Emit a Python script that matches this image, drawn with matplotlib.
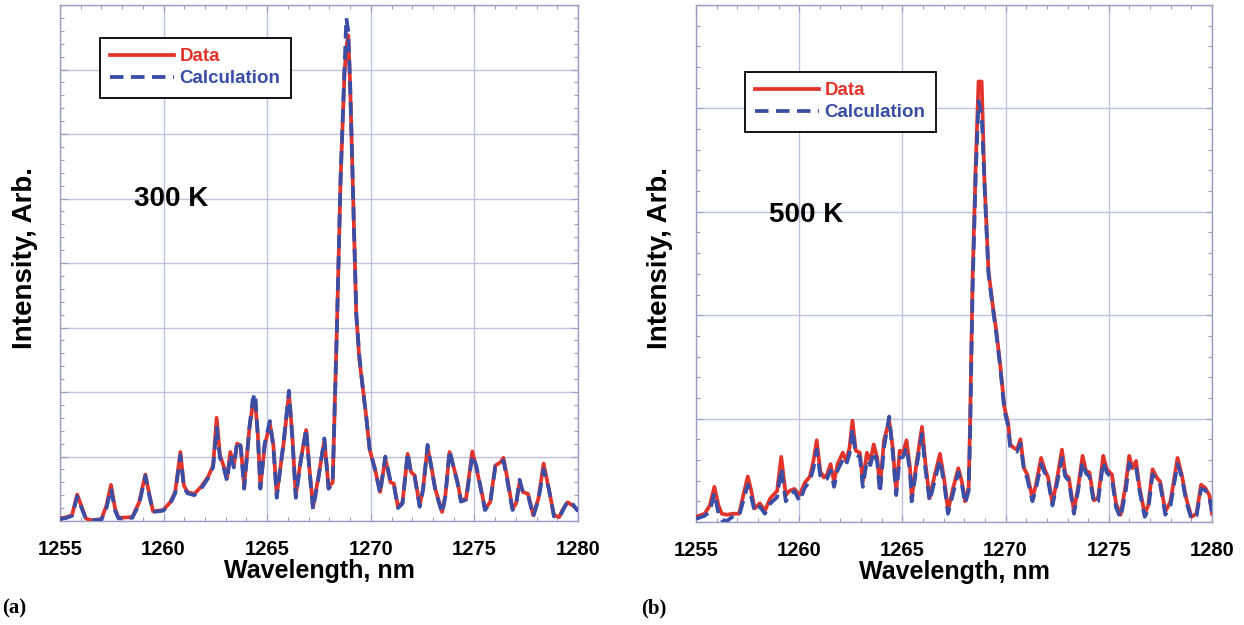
import matplotlib
matplotlib.use("Agg")
import matplotlib.pyplot as plt
from matplotlib.ticker import MultipleLocator

# ---------------- data ----------------
wl_a = [1255.00, 1255.33, 1255.58, 1255.83, 1256.08, 1256.25, 1256.50, 1257.00, 1257.24, 1257.46,
        1257.66, 1257.82, 1258.49, 1258.82, 1259.12, 1259.32, 1259.49, 1259.98, 1260.32, 1260.56,
        1260.81, 1260.98, 1261.15, 1261.48, 1261.81, 1262.14, 1262.39, 1262.56, 1262.72, 1262.89,
        1263.06, 1263.22, 1263.39, 1263.55, 1263.72, 1263.89, 1264.14, 1264.30, 1264.42, 1264.55,
        1264.67, 1264.88, 1265.13, 1265.30, 1265.46, 1265.80, 1266.05, 1266.21, 1266.38, 1266.63,
        1266.88, 1267.04, 1267.21, 1267.46, 1267.76, 1267.96, 1268.16, 1268.27, 1268.36, 1268.54,
        1268.73, 1268.82, 1268.91, 1269.00, 1269.15, 1269.30, 1269.45, 1269.60, 1269.75, 1269.95,
        1270.20, 1270.45, 1270.70, 1270.95, 1271.11, 1271.31, 1271.53, 1271.78, 1271.94, 1272.11,
        1272.36, 1272.52, 1272.74, 1272.94, 1273.11, 1273.44, 1273.60, 1273.80, 1274.02, 1274.19,
        1274.35, 1274.60, 1274.90, 1275.10, 1275.35, 1275.51, 1275.76, 1276.01, 1276.26, 1276.40,
        1276.59, 1276.84, 1277.01, 1277.18, 1277.34, 1277.59, 1277.84, 1278.09, 1278.34, 1278.59,
        1278.84, 1279.09, 1279.25, 1279.50, 1279.75, 1280.00]

data_a = [0.04, 0.06, 0.09, 0.41, 0.19, 0.04, 0.01, 0.03, 0.24, 0.56,
          0.19, 0.05, 0.06, 0.29, 0.72, 0.40, 0.15, 0.17, 0.29, 0.45,
          1.07, 0.55, 0.45, 0.42, 0.53, 0.68, 0.86, 1.60, 1.02, 0.86,
          0.66, 1.07, 0.86, 1.20, 1.17, 0.55, 1.43, 1.80, 1.85, 1.33,
          0.53, 1.17, 1.51, 1.17, 0.40, 1.22, 1.98, 1.33, 0.40, 0.97,
          1.41, 0.81, 0.22, 0.66, 1.25, 0.53, 0.60, 1.90, 2.94, 5.28,
          6.94, 7.34, 7.53, 6.80, 5.00, 3.20, 2.50, 2.10, 1.70, 1.10,
          0.81, 0.45, 0.97, 0.60, 0.58, 0.22, 0.29, 1.04, 0.76, 0.71,
          0.24, 0.50, 1.15, 0.81, 0.50, 0.14, 0.40, 1.07, 0.81, 0.60,
          0.32, 0.35, 1.08, 0.81, 0.45, 0.19, 0.29, 0.86, 0.91, 0.98,
          0.66, 0.19, 0.27, 0.60, 0.45, 0.42, 0.09, 0.35, 0.89, 0.50,
          0.09, 0.06, 0.17, 0.29, 0.24, 0.17]

calc_a = [0.03, 0.05, 0.08, 0.38, 0.17, 0.03, 0.01, 0.02, 0.20, 0.50,
          0.16, 0.04, 0.05, 0.26, 0.70, 0.38, 0.14, 0.16, 0.27, 0.43,
          1.02, 0.52, 0.43, 0.40, 0.50, 0.66, 0.84, 1.45, 0.98, 0.84,
          0.62, 1.03, 0.83, 1.24, 1.15, 0.50, 1.45, 1.88, 1.98, 1.30,
          0.50, 1.20, 1.55, 1.14, 0.36, 1.25, 2.02, 1.30, 0.36, 0.95,
          1.43, 0.78, 0.18, 0.64, 1.28, 0.50, 0.58, 1.90, 2.94, 5.30,
          7.00, 7.80, 7.60, 6.80, 5.00, 3.20, 2.55, 2.10, 1.70, 1.10,
          0.80, 0.43, 1.00, 0.62, 0.56, 0.20, 0.27, 1.06, 0.74, 0.70,
          0.22, 0.48, 1.18, 0.80, 0.48, 0.12, 0.38, 1.10, 0.80, 0.58,
          0.30, 0.33, 1.02, 0.85, 0.43, 0.17, 0.27, 0.84, 0.86, 0.94,
          0.62, 0.17, 0.25, 0.64, 0.45, 0.40, 0.07, 0.33, 0.80, 0.50,
          0.07, 0.05, 0.15, 0.31, 0.26, 0.15]

wl_b = [1255.00, 1255.42, 1255.67, 1255.89, 1256.09, 1256.25, 1256.50, 1256.76, 1257.09, 1257.34,
        1257.51, 1257.68, 1257.84, 1258.09, 1258.34, 1258.60, 1258.93, 1259.13, 1259.35, 1259.52,
        1259.77, 1260.02, 1260.27, 1260.52, 1260.69, 1260.85, 1261.02, 1261.19, 1261.35, 1261.52,
        1261.69, 1261.86, 1262.11, 1262.27, 1262.44, 1262.58, 1262.74, 1262.94, 1263.08, 1263.28,
        1263.45, 1263.61, 1263.78, 1263.91, 1264.11, 1264.36, 1264.53, 1264.70, 1264.87, 1265.03,
        1265.20, 1265.37, 1265.45, 1265.70, 1265.95, 1266.12, 1266.32, 1266.54, 1266.82, 1267.04,
        1267.21, 1267.46, 1267.71, 1267.88, 1268.04, 1268.21, 1268.28, 1268.40, 1268.55, 1268.69,
        1268.84, 1268.97, 1269.17, 1269.36, 1269.55, 1269.75, 1269.94, 1270.13, 1270.22, 1270.38,
        1270.55, 1270.72, 1270.89, 1271.05, 1271.30, 1271.47, 1271.72, 1271.89, 1272.06, 1272.27,
        1272.47, 1272.73, 1272.89, 1273.06, 1273.31, 1273.51, 1273.73, 1273.90, 1274.06, 1274.28,
        1274.48, 1274.73, 1274.90, 1275.15, 1275.35, 1275.57, 1275.82, 1275.99, 1276.15, 1276.32,
        1276.49, 1276.74, 1276.91, 1277.12, 1277.32, 1277.49, 1277.74, 1277.99, 1278.33, 1278.53,
        1278.75, 1279.00, 1279.25, 1279.47, 1279.67, 1279.87, 1280.00]

data_b = [0.05, 0.08, 0.16, 0.34, 0.16, 0.08, 0.07, 0.08, 0.08, 0.30,
          0.44, 0.30, 0.13, 0.18, 0.11, 0.23, 0.30, 0.63, 0.26, 0.30,
          0.32, 0.26, 0.38, 0.44, 0.59, 0.79, 0.49, 0.43, 0.46, 0.56,
          0.39, 0.56, 0.67, 0.59, 0.72, 0.98, 0.69, 0.67, 0.39, 0.67,
          0.59, 0.75, 0.62, 0.33, 0.79, 0.98, 0.72, 0.30, 0.69, 0.67,
          0.79, 0.52, 0.23, 0.59, 0.92, 0.56, 0.23, 0.43, 0.66, 0.39,
          0.11, 0.33, 0.52, 0.39, 0.20, 0.33, 0.95, 2.35, 3.44, 4.26,
          4.26, 3.33, 2.43, 2.12, 1.85, 1.50, 1.11, 0.95, 0.75, 0.72,
          0.70, 0.80, 0.52, 0.46, 0.23, 0.36, 0.62, 0.51, 0.43, 0.18,
          0.39, 0.70, 0.46, 0.43, 0.11, 0.33, 0.64, 0.49, 0.48, 0.21,
          0.23, 0.64, 0.51, 0.46, 0.18, 0.07, 0.36, 0.64, 0.52, 0.59,
          0.33, 0.08, 0.16, 0.51, 0.43, 0.39, 0.10, 0.20, 0.62, 0.46,
          0.23, 0.05, 0.08, 0.36, 0.33, 0.26, 0.08]

calc_b = [0.03, 0.06, 0.10, 0.28, 0.08, 0.02, 0.01, 0.05, 0.06, 0.24,
          0.36, 0.24, 0.10, 0.15, 0.08, 0.18, 0.24, 0.52, 0.20, 0.26,
          0.30, 0.20, 0.33, 0.40, 0.52, 0.70, 0.45, 0.40, 0.42, 0.50,
          0.34, 0.50, 0.60, 0.55, 0.66, 0.90, 0.65, 0.63, 0.34, 0.60,
          0.55, 0.68, 0.58, 0.28, 0.72, 1.02, 0.68, 0.26, 0.62, 0.63,
          0.72, 0.48, 0.20, 0.55, 0.85, 0.50, 0.20, 0.38, 0.60, 0.35,
          0.08, 0.28, 0.48, 0.36, 0.18, 0.30, 0.85, 2.25, 3.35, 4.07,
          3.95, 3.30, 2.40, 2.10, 1.82, 1.48, 1.08, 0.92, 0.73, 0.70,
          0.68, 0.76, 0.50, 0.42, 0.20, 0.32, 0.56, 0.48, 0.40, 0.16,
          0.35, 0.62, 0.44, 0.40, 0.08, 0.30, 0.58, 0.47, 0.44, 0.18,
          0.20, 0.58, 0.48, 0.42, 0.14, 0.04, 0.30, 0.57, 0.50, 0.53,
          0.30, 0.05, 0.12, 0.46, 0.41, 0.36, 0.07, 0.16, 0.56, 0.44,
          0.20, 0.03, 0.06, 0.32, 0.31, 0.24, 0.10]

xticks = [1255, 1260, 1265, 1270, 1275, 1280]
panels = [
    dict(wl=wl_a, data=data_a, calc=calc_a, ymax=8, temp="300 K", tag="(a)",
         temp_xy=(1260.35, 5.0)),
    dict(wl=wl_b, data=data_b, calc=calc_b, ymax=5, temp="500 K", tag="(b)",
         temp_xy=(1260.35, 2.97)),
]

# ---------------- styling ----------------
RED = "#e3342c"
BLUE = "#3a4ea6"
SPINE = "#9a9dc4"
GRID = "#bfc2dc"
SANS = ["Liberation Sans", "DejaVu Sans"]
SERIF = ["Liberation Serif", "DejaVu Serif"]

W, H = 1244, 625
fig = plt.figure(figsize=(W / 100, H / 100), dpi=100)

ax_boxes = [
    (60 / W, (H - 521) / H, 518 / W, 516 / H),
    (696 / W, (H - 522) / H, 516 / W, 517 / H),
]
legend_anchor = [((100 - 60) / 518, (521 - 38) / 516),
                 ((745 - 696) / 516, (522 - 72) / 517)]
ylabel_x = [25, 660]
tag_x = [2, 641]

for i, p in enumerate(panels):
    ax = fig.add_axes(ax_boxes[i])
    ax.plot(p["wl"], p["data"], color=RED, lw=2.7, label="Data", zorder=3,
            solid_joinstyle="round")
    ax.plot(p["wl"], p["calc"], color=BLUE, lw=2.7, dashes=(3.6, 2.0),
            label="Calculation", zorder=4, dash_joinstyle="round")

    ax.set_xlim(1255, 1280)
    ax.set_ylim(0, p["ymax"])
    ax.set_xticks(xticks)
    ax.xaxis.set_minor_locator(MultipleLocator(1))
    ax.yaxis.set_major_locator(MultipleLocator(1))
    ax.yaxis.set_minor_locator(MultipleLocator(0.2))
    ax.set_yticklabels([])
    ax.grid(True, which="major", color=GRID, lw=1.0, zorder=0)
    ax.set_axisbelow(True)
    for s in ax.spines.values():
        s.set_color(SPINE)
        s.set_linewidth(1.0)
    ax.tick_params(which="both", direction="in", top=True, right=True,
                   color=SPINE, width=0.8)
    ax.tick_params(which="major", length=5)
    ax.tick_params(which="minor", length=3)
    ax.tick_params(axis="x", which="major", pad=14, labelsize=14.5)
    for t in ax.get_xticklabels():
        t.set_fontfamily(SANS)
        t.set_fontweight("bold")

    ax.set_xlabel("Wavelength, nm", fontsize=18, fontweight="bold",
                  family=SANS, labelpad=0)

    ax.text(p["temp_xy"][0], p["temp_xy"][1], p["temp"], fontsize=20,
            fontweight="bold", family=SANS, ha="center", va="center")

    leg = ax.legend(loc="upper left", bbox_to_anchor=legend_anchor[i],
                    borderaxespad=0, frameon=True, fancybox=False,
                    prop=dict(family=SANS, weight="bold", size=13.5),
                    handlelength=3.4, handletextpad=0.3, labelspacing=0.25,
                    borderpad=0.55)
    fr = leg.get_frame()
    fr.set_edgecolor("black")
    fr.set_linewidth(1.3)
    fr.set_alpha(1)
    for txt, col in zip(leg.get_texts(), [RED, BLUE]):
        txt.set_color(col)

    fig.text(ylabel_x[i] / W, 1 - 258 / H, "Intensity, Arb.", rotation=90,
             fontsize=20, fontweight="bold", family=SANS,
             ha="center", va="center")
    fig.text(tag_x[i] / W, 1 - 608 / H, p["tag"], fontsize=15,
             fontweight="bold", family=SERIF, ha="left", va="center")

fig.savefig("out.png", dpi=100)
